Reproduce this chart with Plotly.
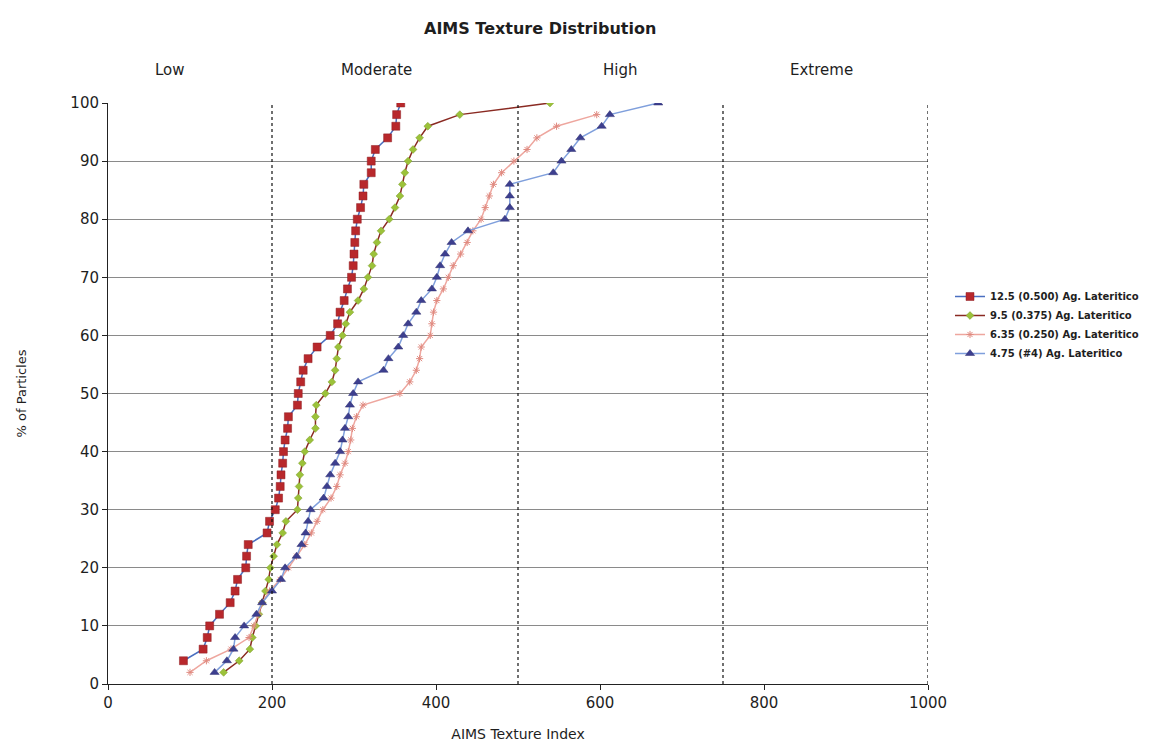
import plotly.graph_objects as go

# ---- data ----
s1_name = "12.5 (0.500) Ag. Lateritico"
s1_y = [4, 6, 8, 10, 12, 14, 16, 18, 20, 22, 24, 26, 28, 30, 32, 34, 36, 38, 40, 42,
        44, 46, 48, 50, 52, 54, 56, 58, 60, 62, 64, 66, 68, 70, 72, 74, 76, 78, 80, 82,
        84, 86, 88, 90, 92, 94, 96, 98, 100]
s1_x = [92, 116, 121, 124, 136, 149, 155, 158, 168, 169, 171, 194, 197, 204, 208, 210, 211, 213, 214, 216,
        219, 220, 231, 232, 235, 238, 244, 255, 271, 280, 283, 288, 292, 297, 299, 300, 301, 302, 304, 308,
        311, 312, 321, 321, 326, 341, 351, 352, 357]

s2_name = "9.5 (0.375) Ag. Lateritico"
s2_y = [2, 4, 6, 8, 10, 12, 14, 16, 18, 20, 22, 24, 26, 28, 30, 32, 34, 36, 38, 40,
        42, 44, 46, 48, 50, 52, 54, 56, 58, 60, 62, 64, 66, 68, 70, 72, 74, 76, 78, 80,
        82, 84, 86, 88, 90, 92, 94, 96, 98, 100]
s2_x = [141, 160, 173, 176, 180, 184, 188, 192, 196, 198, 202, 206, 213, 217, 231, 232, 233, 234, 237, 240,
        246, 253, 253, 254, 265, 273, 277, 279, 281, 286, 290, 295, 305, 312, 317, 322, 324, 328, 333, 343,
        350, 356, 359, 362, 366, 372, 380, 390, 429, 539]

s3_name = "6.35 (0.250) Ag. Lateritico"
s3_y = [2, 4, 6, 8, 10, 12, 14, 16, 18, 20, 22, 24, 26, 28, 30, 32, 34, 36, 38, 40,
        42, 44, 46, 48, 50, 52, 54, 56, 58, 60, 62, 64, 66, 68, 70, 72, 74, 76, 78, 80,
        82, 84, 86, 88, 90, 92, 94, 96, 98]
s3_x = [100, 120, 150, 172, 178, 183, 188, 197, 210, 220, 230, 240, 248, 255, 262, 272, 279, 283, 289, 293,
        296, 298, 303, 311, 356, 368, 376, 380, 382, 393, 395, 397, 401, 409, 415, 421, 430, 438, 445, 455,
        460, 465, 470, 480, 495, 511, 523, 547, 596]

s4_name = "4.75 (#4) Ag. Lateritico"
s4_y = [2, 4, 6, 8, 10, 12, 14, 16, 18, 20, 22, 24, 26, 28, 30, 32, 34, 36, 38, 40,
        42, 44, 46, 48, 50, 52, 54, 56, 58, 60, 62, 64, 66, 68, 70, 72, 74, 76, 78, 80,
        82, 84, 86, 88, 90, 92, 94, 96, 98, 100]
s4_x = [130, 145, 153, 155, 166, 181, 188, 200, 211, 216, 230, 236, 241, 244, 247, 263, 267, 271, 277, 283,
        286, 289, 293, 295, 299, 305, 336, 342, 354, 360, 366, 376, 382, 395, 401, 405, 411, 419, 439, 484,
        490, 490, 490, 543, 553, 565, 576, 602, 612, 671]

class_labels = ["Low", "Moderate", "High", "Extreme"]
class_label_pos = [76, 328, 624, 870]
class_bounds = [200, 500, 750, 1000]

x_ticks = [0, 200, 400, 600, 800, 1000]
y_ticks = [0, 10, 20, 30, 40, 50, 60, 70, 80, 90, 100]

FONT = "DejaVu Sans, Liberation Sans, Arial, sans-serif"
TXT = "#1e1e1e"

# page body has an 8px margin: plot area should land at x 108..928, y 103..684
L, R, T, B = 100, 252, 95, 69
PW = 1172 - L - R
PH = 745 - T - B


def py(screen_y):
    return (684 - screen_y) / PH


fig = go.Figure()

fig.add_trace(go.Scatter(
    x=s1_x, y=s1_y, name=s1_name, mode="lines+markers",
    line=dict(color="#4a6fc0", width=1.5),
    marker=dict(symbol="square", size=8, color="#b8282c", line=dict(color="#8e1c20", width=0.5)),
))
fig.add_trace(go.Scatter(
    x=s2_x, y=s2_y, name=s2_name, mode="lines+markers",
    line=dict(color="#8a2a22", width=1.5),
    marker=dict(symbol="diamond", size=6, color="#9cc23a", line=dict(color="#7a9a2a", width=0.5)),
))
fig.add_trace(go.Scatter(
    x=s3_x, y=s3_y, name=s3_name, mode="lines+markers",
    line=dict(color="#eea69e", width=1.5),
    marker=dict(symbol="asterisk-open", size=6, color="#e08a80", line=dict(color="#e08a80", width=1)),
))
fig.add_trace(go.Scatter(
    x=s4_x, y=s4_y, name=s4_name, mode="lines+markers",
    line=dict(color="#7f9fdc", width=1.5),
    marker=dict(symbol="triangle-up", size=8, color="#3d3f8f", line=dict(color="#2e2f70", width=0.5)),
))

shapes = []
for b in class_bounds:
    shapes.append(dict(type="line", xref="x", yref="y", x0=b, x1=b, y0=0, y1=100,
                       line=dict(color="#111111", width=1.2, dash="dot"), layer="above"))

annotations = []
annotations.append(dict(text="<b>AIMS Texture Distribution</b>", xref="paper", yref="paper",
                        x=(540 - 108) / PW, y=py(28), showarrow=False,
                        font=dict(family=FONT, size=16, color=TXT), xanchor="center", yanchor="middle"))
for lbl, pos in zip(class_labels, class_label_pos):
    annotations.append(dict(text=lbl, xref="x", yref="paper", x=pos, y=py(70),
                            showarrow=False, font=dict(family=FONT, size=15, color=TXT),
                            xanchor="center", yanchor="middle"))

fig.update_layout(
    width=1172, height=745,
    margin=dict(l=L, r=R, t=T, b=B),
    paper_bgcolor="white", plot_bgcolor="white",
    font=dict(family=FONT, size=14, color=TXT),
    showlegend=True,
    legend=dict(x=(950 - 108) / PW, y=py(282), xanchor="left", yanchor="top",
                font=dict(family=FONT, size=10, color=TXT, weight="bold"),
                bgcolor="rgba(0,0,0,0)", tracegroupgap=0, itemwidth=30),
    shapes=shapes,
    annotations=annotations,
    xaxis=dict(range=[0, 1000], tickvals=x_ticks, showgrid=False, zeroline=False,
               showline=True, linecolor="#222222", linewidth=1,
               ticks="outside", ticklen=5, tickcolor="#222222",
               title=dict(text="AIMS Texture Index", font=dict(family=FONT, size=14), standoff=18),
               tickfont=dict(family=FONT, size=15)),
    yaxis=dict(range=[0, 100], tickvals=y_ticks, showgrid=True, gridcolor="#8a8a8a", gridwidth=1,
               zeroline=False, showline=True, linecolor="#222222", linewidth=1,
               ticks="outside", ticklen=5, tickcolor="#222222",
               title=dict(text="% of Particles", font=dict(family=FONT, size=13), standoff=40),
               tickfont=dict(family=FONT, size=15)),
)

fig.write_html("out.html")
